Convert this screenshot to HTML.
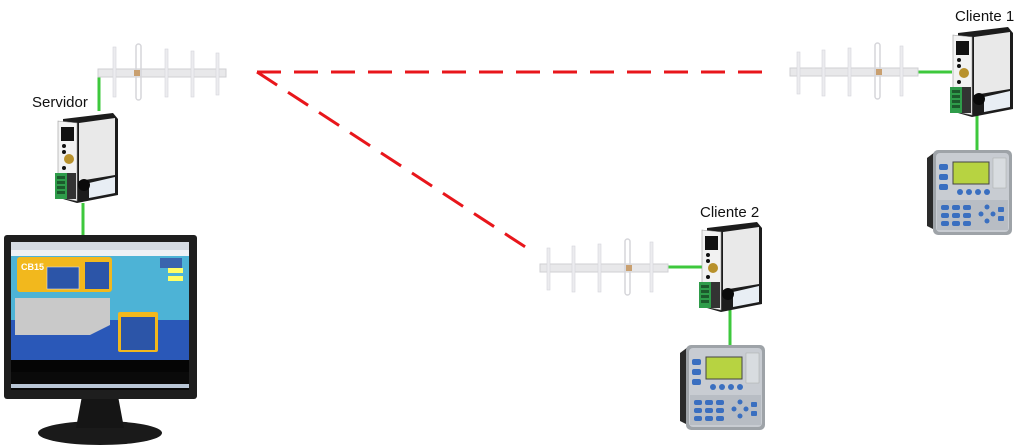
<!DOCTYPE html>
<html><head><meta charset="utf-8"><style>
html,body{margin:0;padding:0;background:#fff;}
svg{display:block;}
text{font-family:"Liberation Sans",sans-serif;font-size:15px;fill:#111;}
</style></head><body>
<svg width="1030" height="448" viewBox="0 0 1030 448" xmlns="http://www.w3.org/2000/svg">
<defs>
  <g id="ant">
    <!-- boom 0..128, centered y=0 -->
    <rect x="0" y="-4" width="128" height="8" fill="#e8e8ea" stroke="#cfcfd3" stroke-width="1"/>
    <rect x="15" y="-26" width="3" height="50" fill="#ececef" stroke="#d6d6da" stroke-width="0.6"/>
    <rect x="38" y="-29" width="5" height="56" rx="2.5" fill="none" stroke="#d6d6da" stroke-width="1.5"/>
    <rect x="67" y="-24" width="3" height="48" fill="#ececef" stroke="#d6d6da" stroke-width="0.6"/>
    <rect x="93" y="-22" width="3" height="46" fill="#ececef" stroke="#d6d6da" stroke-width="0.6"/>
    <rect x="118" y="-20" width="3" height="42" fill="#ececef" stroke="#d6d6da" stroke-width="0.6"/>
    <rect x="36" y="-3" width="6" height="6" fill="#c9a070"/>
  </g>
  <g id="dev">
    <!-- 63 x 90 -->
    <polygon points="8,6 58,0 63,6 63,82 22,90 8,86" fill="#1c1c1c"/>
    <polygon points="24,10 60,5 60,62 24,68" fill="#e9e9e9"/>
    <polygon points="34,70 60,64 60,80 34,85" fill="#e8eef4"/>
    <circle cx="29" cy="72" r="6" fill="#0a0a0a"/>
    <polygon points="3,8 22,10 22,88 3,84" fill="#f2f2f2" stroke="#999" stroke-width="0.6"/>
    <rect x="6" y="14" width="13" height="14" fill="#111"/>
    <circle cx="9" cy="33" r="2" fill="#111"/><circle cx="9" cy="39" r="2" fill="#111"/>
    <circle cx="14" cy="46" r="5" fill="#b8912c"/>
    <circle cx="9" cy="55" r="2" fill="#111"/>
    <rect x="0" y="60" width="12" height="26" fill="#2f9c4a"/>
    <rect x="12" y="60" width="9" height="26" fill="#333"/>
    <g fill="#1c5a2c"><rect x="2" y="63" width="8" height="3"/><rect x="2" y="68" width="8" height="3"/><rect x="2" y="73" width="8" height="3"/><rect x="2" y="78" width="8" height="3"/></g>
  </g>
  <g id="plc">
    <!-- 85 x 85 -->
    <polygon points="0,8 8,2 8,80 0,76" fill="#2a2a2a"/>
    <rect x="6" y="0" width="79" height="85" rx="5" fill="#9ea3a8"/>
    <rect x="9" y="3" width="73" height="79" rx="4" fill="#c8ccd2"/>
    <rect x="26" y="12" width="36" height="22" fill="#b7d341" stroke="#444" stroke-width="1"/>
    <rect x="12" y="14" width="9" height="6" rx="2" fill="#3a6fc0"/>
    <rect x="12" y="24" width="9" height="6" rx="2" fill="#3a6fc0"/>
    <rect x="12" y="34" width="9" height="6" rx="2" fill="#3a6fc0"/>
    <rect x="66" y="8" width="13" height="30" fill="#d8dce0" stroke="#aaa" stroke-width="0.5"/>
    <rect x="10" y="50" width="71" height="30" fill="#b8bdc4"/>
    <g fill="#3a6fc0">
      <rect x="14" y="55" width="8" height="5" rx="2"/><rect x="25" y="55" width="8" height="5" rx="2"/><rect x="36" y="55" width="8" height="5" rx="2"/>
      <rect x="14" y="63" width="8" height="5" rx="2"/><rect x="25" y="63" width="8" height="5" rx="2"/><rect x="36" y="63" width="8" height="5" rx="2"/>
      <rect x="14" y="71" width="8" height="5" rx="2"/><rect x="25" y="71" width="8" height="5" rx="2"/><rect x="36" y="71" width="8" height="5" rx="2"/>
      <circle cx="60" cy="57" r="2.5"/><circle cx="54" cy="64" r="2.5"/><circle cx="66" cy="64" r="2.5"/><circle cx="60" cy="71" r="2.5"/>
      <rect x="71" y="57" width="6" height="5" rx="1"/><rect x="71" y="66" width="6" height="5" rx="1"/>
      <circle cx="33" cy="42" r="3"/><circle cx="42" cy="42" r="3"/><circle cx="51" cy="42" r="3"/><circle cx="60" cy="42" r="3"/>
    </g>
  </g>
</defs>

<!-- dashed links -->
<line x1="257" y1="72" x2="765" y2="72" stroke="#e8161b" stroke-width="3" stroke-dasharray="24,13"/>
<line x1="257" y1="72" x2="530" y2="250" stroke="#e8161b" stroke-width="3" stroke-dasharray="24,13"/>

<!-- green lines -->
<g stroke="#3ec83c" stroke-width="3" fill="none">
  <polyline points="99,72 99,111"/>
  <line x1="83" y1="203" x2="83" y2="237"/>
  <line x1="918" y1="72" x2="952" y2="72"/>
  <line x1="977" y1="113" x2="977" y2="151"/>
  <line x1="668" y1="267" x2="702" y2="267"/>
  <line x1="730" y1="308" x2="730" y2="346"/>
</g>

<!-- antennas -->
<use href="#ant" x="98" y="73"/>
<use href="#ant" transform="translate(918,72) scale(-1,1)"/>
<use href="#ant" transform="translate(668,268) scale(-1,1)"/>

<!-- devices -->
<use href="#dev" x="55" y="113"/>
<use href="#dev" x="950" y="27"/>
<use href="#dev" x="699" y="222"/>

<!-- PLCs -->
<use href="#plc" x="927" y="150"/>
<use href="#plc" x="680" y="345"/>

<!-- labels -->
<text x="32" y="107">Servidor</text>
<text x="955" y="21">Cliente 1</text>
<text x="700" y="217">Cliente 2</text>

<!-- monitor -->
<ellipse cx="100" cy="433" rx="62" ry="12" fill="#1a1a1a"/>
<polygon points="82,396 118,396 124,428 76,428" fill="#151515"/>
<rect x="4" y="235" width="193" height="164" rx="3" fill="#1e1e1e"/>
<rect x="11" y="242" width="178" height="130" fill="#2a7fc8"/>
<rect x="11" y="242" width="178" height="8" fill="#d5dbe3"/>
<rect x="11" y="250" width="178" height="6" fill="#eef1f5"/>
<rect x="11" y="256" width="178" height="100" fill="#4db3d6"/>
<rect x="11" y="320" width="178" height="40" fill="#2a58b8"/>
<rect x="17" y="257" width="95" height="35" rx="3" fill="#f2b81d"/>
<rect x="47" y="267" width="32" height="22" fill="#2c55a8" stroke="#ddd" stroke-width="0.6"/>
<rect x="85" y="262" width="24" height="27" fill="#2c55a8"/>
<text x="21" y="270" style="font-size:9px;font-weight:bold;fill:#fff">CB15</text>
<polygon points="15,298 110,298 110,325 90,335 15,335" fill="#c9c9c9"/>
<rect x="118" y="312" width="40" height="40" rx="2" fill="#f2b81d"/>
<rect x="121" y="317" width="34" height="33" fill="#2c55a8"/>
<rect x="168" y="268" width="15" height="5" fill="#ffff66"/>
<rect x="168" y="276" width="15" height="5" fill="#ffff66"/>
<rect x="160" y="258" width="22" height="10" fill="#3a64ad"/>
<rect x="11" y="360" width="178" height="12" fill="#050505"/>
<rect x="11" y="372" width="178" height="18" fill="#0a0a0a"/>
<rect x="11" y="384" width="178" height="4" fill="#b9c6d6"/>
</svg>
</body></html>
